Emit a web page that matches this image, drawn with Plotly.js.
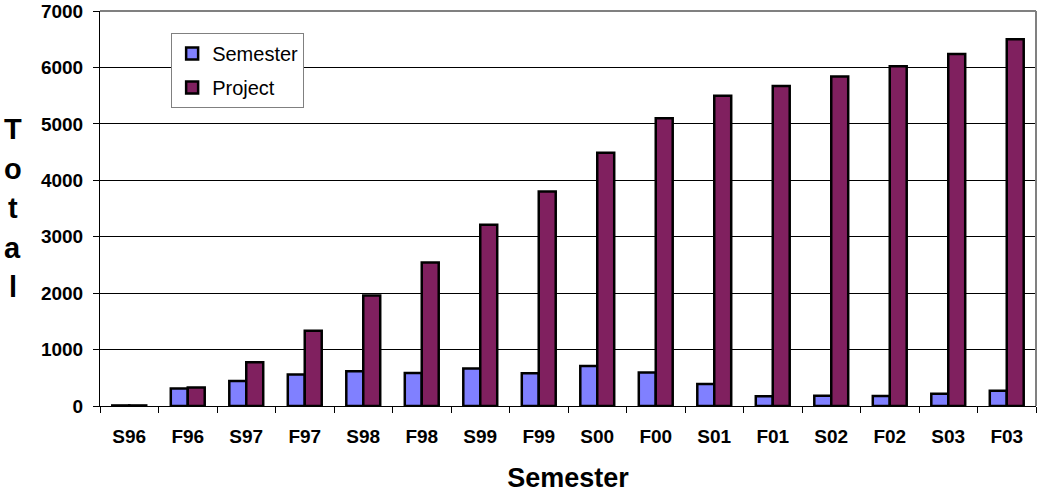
<!DOCTYPE html>
<html>
<head>
<meta charset="utf-8">
<script src="https://cdn.plot.ly/plotly-3.0.1.min.js"></script>
<style>
html,body{margin:0;padding:0;background:#fff;}
#chart{width:1037px;height:498px;}
</style>
</head>
<body>
<div id="chart"></div>
<script>
const categories = ["S96","F96","S97","F97","S98","F98","S99","F99","S00","F00","S01","F01","S02","F02","S03","F03"];
const semesterValues = [10,310,445,560,615,585,665,580,710,595,390,172,183,177,218,271];
const projectValues = [10,330,775,1335,1960,2545,3210,3800,4490,5100,5500,5670,5840,6020,6240,6500];
const yTickVals = [0,1000,2000,3000,4000,5000,6000,7000];
const yTitleLetters = ["T","o","t","a","l"];

const traces = [
  {type:"bar", name:"Semester", x:categories, y:semesterValues, legendgroup:"a",
   marker:{color:"#8080ff", line:{color:"#000", width:2.5}}},
  {type:"bar", name:"Project", x:categories, y:projectValues, legendgroup:"b",
   marker:{color:"#80205f", line:{color:"#000", width:2.5}}}
];

const letterAnnotations = yTitleLetters.map((ch, i) => ({
  text: ch, xref:"paper", yref:"paper", x:-0.093, y:(406-129-i*39.5)/395,
  xanchor:"center", yanchor:"middle", showarrow:false,
  font:{family:"Arial, Liberation Sans, sans-serif", size:29, color:"#000", weight:"bold"}
}));

const layout = {
  width:1037, height:498,
  margin:{l:100, r:1, t:11, b:92},
  paper_bgcolor:"#fff", plot_bgcolor:"#fff",
  barmode:"group", bargap:0.42, bargroupgap:0,
  font:{family:"Arial, Liberation Sans, sans-serif", color:"#000"},
  showlegend:true,
  legend:{x:0.076, y:0.944, xanchor:"left", yanchor:"top",
    bgcolor:"#fff", bordercolor:"#808080", borderwidth:1,
    font:{size:20, family:"Arial, Liberation Sans, sans-serif"},
    traceorder:"grouped", tracegroupgap:5, itemwidth:30},
  xaxis:{
    type:"category", tickson:"boundaries", ticks:"outside", ticklen:6, tickcolor:"#000",
    showline:true, linecolor:"#000", linewidth:1, showgrid:false,
    ticklabelstandoff:13,
    tickfont:{size:19, weight:"bold"},
    title:{text:"Semester", font:{size:27, weight:"bold"}, standoff:22}
  },
  yaxis:{
    range:[0,7000], tickvals:yTickVals, ticks:"outside", ticklen:6, tickcolor:"#000",
    showline:true, linecolor:"#000", linewidth:1,
    showgrid:true, gridcolor:"#000", gridwidth:1, zeroline:false,
    ticklabelstandoff:6,
    tickfont:{size:19, weight:"bold"}, fixedrange:true
  },
  shapes:[
    {type:"line", xref:"paper", yref:"paper", x0:0, x1:1, y0:1, y1:1, line:{color:"#808080", width:2}},
    {type:"line", xref:"paper", yref:"paper", x0:1, x1:1, y0:0, y1:1, line:{color:"#808080", width:2}}
  ],
  annotations: letterAnnotations
};

Plotly.newPlot("chart", traces, layout, {displayModeBar:false, staticPlot:true});
</script>
</body>
</html>
